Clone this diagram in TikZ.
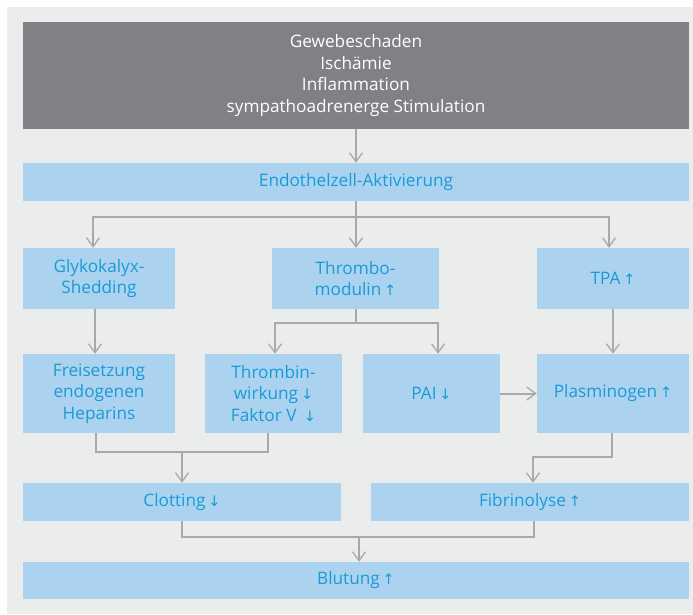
\documentclass[tikz,border=0pt]{standalone}
\usepackage{fontspec}
\setmainfont{Open Sans}
\newfontfamily\symf{DejaVu Sans}
\usetikzlibrary{arrows.meta}
\definecolor{bg}{HTML}{EBECEC}
\definecolor{topgray}{HTML}{808184}
\definecolor{boxblue}{HTML}{ABD3EF}
\definecolor{txtblue}{HTML}{1A9AD6}
\definecolor{linegray}{HTML}{A7A9AB}
\newcommand\upar{\,{\symf\fontsize{14.5}{14.5}\selectfont ↑}}
\newcommand\dnar{\,{\symf\fontsize{14.5}{14.5}\selectfont ↓}}
\begin{document}
\begin{tikzpicture}[x=1pt,y=-1pt,
 bx/.style={fill=boxblue, text=txtblue, inner sep=0pt, align=center, font=\fontsize{17.2}{21.5}\selectfont},
 topbx/.style={fill=topgray, text=white, inner sep=0pt, align=center, font=\fontsize{17.2}{21.5}\selectfont},
 arr/.style={draw=linegray, line width=2pt, -{Straight Barb[length=9pt,width=13pt,line width=1.3pt]}},
 ln/.style={draw=linegray, line width=2pt}]
\useasboundingbox (0,0) rectangle (693,614);
\fill[bg] (7,7) rectangle (693,614);

\node[topbx, minimum width=666pt, minimum height=107pt] (top) at (356,75.5) {Gewebeschaden\\Ischämie\\Inflammation\\sympathoadrenerge Stimulation};
\node[bx, minimum width=666pt, minimum height=38pt] (endo) at (356,182) {Endothelzell-Aktivierung};

\node[bx, minimum width=152pt, minimum height=61pt] (glyko) at (99,278.5) {Glykokalyx-\\Shedding};
\node[bx, minimum width=167pt, minimum height=61pt] (thrombo) at (355.5,278.5) {Thrombo-\\modulin\upar};
\node[bx, minimum width=152pt, minimum height=61pt] (tpa) at (613,278.5) {TPA\upar};

\node[bx, minimum width=152pt, minimum height=79pt] (freis) at (99,393.5) {Freisetzung\\endogenen\\Heparins};
\node[bx, minimum width=137pt, minimum height=79pt] (thrombin) at (273.5,393.5) {Thrombin-\\wirkung\dnar\\Faktor V \dnar};
\node[bx, minimum width=137pt, minimum height=79pt] (pai) at (431.5,393.5) {PAI\dnar};
\node[bx, minimum width=152pt, minimum height=79pt] (plasm) at (613,393.5) {Plasminogen\upar};

\node[bx, minimum width=318pt, minimum height=38pt] (clot) at (182,502) {Clotting\dnar};
\node[bx, minimum width=318pt, minimum height=38pt] (fibrin) at (530,502) {Fibrinolyse\upar};

\node[bx, minimum width=666pt, minimum height=37pt] (blut) at (356,580.5) {Blutung\upar};

\coordinate (j1) at (356,217);
\coordinate (j2) at (356,323);
\coordinate (j3) at (182,452);
\coordinate (j4) at (359,537);

\draw[arr] (top) -- (endo);
\draw[arr] (endo.south) -- (j1) -| ([xshift=-6pt]glyko.north);
\draw[arr] (j1) -| ([xshift=-4pt]tpa.north);
\draw[arr] (endo.south) -- (endo.south |- thrombo.north);

\draw[arr] ([xshift=-4pt]glyko.south) -- ([xshift=-4pt]freis.north);
\draw[arr] (thrombo.south -| j2) -- (j2) -| ([xshift=1.5pt]thrombin.north);
\draw[arr] (j2) -| ([xshift=6.5pt]pai.north);
\draw[arr] (tpa) -- (plasm);
\draw[arr] (pai) -- (plasm);

\draw[ln] ([xshift=-3pt]freis.south) |- (j3) -| ([xshift=-6pt]thrombin.south);
\draw[arr] (j3) -- (clot);
\draw[arr] ([xshift=-1pt]plasm.south) -- ++(0,24) -| ([xshift=3pt]fibrin.north);

\draw[ln] (clot.south) |- (j4) -| ([xshift=4pt]fibrin.south);
\draw[arr] (j4) -- (j4 |- blut.north);
\end{tikzpicture}
\end{document}
